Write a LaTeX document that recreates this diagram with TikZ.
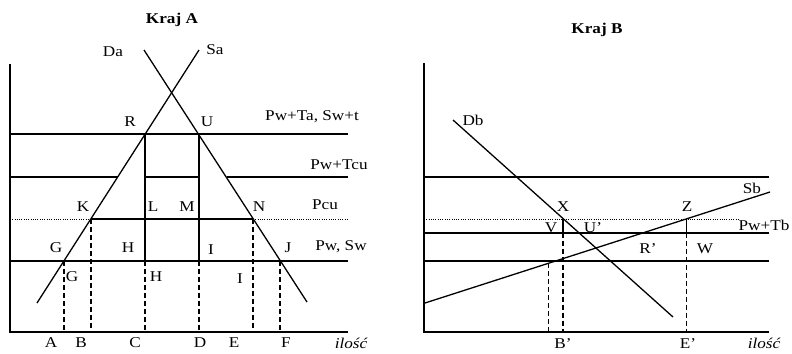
\documentclass[tikz,border=0pt]{standalone}
\usepackage{fontspec}
\setmainfont{Liberation Serif}[FakeStretch=1.15]
\usepackage{tikz}
\usetikzlibrary{calc}

\begin{document}
\begin{tikzpicture}[
        x=1bp, y=-1bp,
        font=\fontsize{15}{18}\selectfont,
        axis/.style={line width=1.3pt, draw=black},
        curve/.style={line width=1.3pt, draw=black},
        price/.style={line width=1.1pt, draw=black},
        pricedot/.style={line width=0.9pt, dash pattern=on 0.9pt off 1.4pt, draw=black},
        guide/.style={line width=1.1pt, dash pattern=on 5pt off 3pt, draw=black},
        lbl/.style={inner sep=0pt},
        title/.style={lbl, font=\fontsize{15}{18}\selectfont\bfseries},
        qty/.style={lbl, font=\fontsize{15}{18}\selectfont\itshape}
    ]
    \useasboundingbox (0,0) rectangle (792,353);

    % ---- Kraj A ----
    \coordinate (oA) at (10,332);
    \coordinate (yA) at (10,64);
    \coordinate (xA) at (348,332);
    \coordinate (sa0) at (37,303);
    \coordinate (sa1) at (199,50);
    \coordinate (da0) at (144,50);
    \coordinate (da1) at (307,302);
    \coordinate (R) at (145,134);
    \coordinate (U) at (199,134);
    \coordinate (tcuS) at (117.7,177);
    \coordinate (tcuD) at (226.5,177);
    \coordinate (K) at (91,219);
    \coordinate (N) at (253,219);
    \coordinate (G) at (64,261);
    \coordinate (H) at (145,261);
    \coordinate (I) at (199,261);
    \coordinate (J) at (280,261);

    \draw[price] (R -| yA) -- (R -| xA);
    \draw[price] (tcuS -| yA) -- (tcuS);
    \draw[price] (H |- tcuS) -- (I |- tcuS);
    \draw[price] (tcuD) -- (tcuD -| xA);
    \draw[pricedot] (K -| yA) -- (K);
    \draw[price] (K) -- (N);
    \draw[pricedot] (N) -- (N -| xA);
    \draw[price] (G -| yA) -- (G -| xA);

    \draw[curve] (sa0) -- (sa1);
    \draw[curve] (da0) -- (da1);
    \draw[price] (R) -- (H);
    \draw[price] (U) -- (I);
    \foreach \p in {G,K,H,I,N,J}
        \draw[guide] (\p) -- (\p |- oA);

    \draw[axis] (yA) -- (oA) -- (xA);

    \node[title] (krajA) at (172,20) {Kraj A};
    \node[lbl] (lDa) at (113,52) {Da};
    \node[lbl] (lSa) at (215,50) {Sa};
    \node[lbl] (lR) at (130,122) {R};
    \node[lbl] (lU) at (207,122) {U};
    \node[lbl] (lTa) at (312,117) {Pw+Ta, Sw+t};
    \node[lbl] (lTcu) at (339,165) {Pw+Tcu};
    \node[lbl] (lK) at (83,207) {K};
    \node[lbl] (lL) at (153,207) {L};
    \node[lbl] (lM) at (187,207) {M};
    \node[lbl] (lN) at (259,207) {N};
    \node[lbl] (lPcu) at (325,205) {Pcu};
    \node[lbl] (lG) at (56,248) {G};
    \node[lbl] (lH) at (128,248) {H};
    \node[lbl] (lI) at (211,250) {I};
    \node[lbl] (lJ) at (288,248) {J};
    \node[lbl] (lPw) at (341,247) {Pw, Sw};
    \node[lbl] (lG2) at (72,277) {G};
    \node[lbl] (lH2) at (156,277) {H};
    \node[lbl] (lI2) at (240,279) {I};
    \node[lbl] (qA) at (51,343) {A};
    \node[lbl] (qB) at (81,343) {B};
    \node[lbl] (qC) at (135,343) {C};
    \node[lbl] (qD) at (200,343) {D};
    \node[lbl] (qE) at (234,343) {E};
    \node[lbl] (qF) at (286,343) {F};
    \node[qty] (ilA) at (351,343) {ilość};

    % ---- Kraj B ----
    \coordinate (oB) at (424,332);
    \coordinate (yB) at (424,63);
    \coordinate (xB) at (769,332);
    \coordinate (sb0) at (425,303);
    \coordinate (sb1) at (770,192);
    \coordinate (db0) at (453,120);
    \coordinate (db1) at (673,317);
    \coordinate (topB) at (424,177);
    \coordinate (X) at (563,219);
    \coordinate (Z) at ($(sb0)!0.759!(sb1)$);
    \coordinate (V) at (563,233);
    \coordinate (W) at (Z |- V);
    \coordinate (Bq) at ($(sb0)!0.359!(sb1)$);
    \coordinate (pwB) at (424,261);

    \draw[price] (topB) -- (topB -| xB);
    \draw[pricedot] (X -| yB) -- (738,219);
    \draw[price] (V -| yB) -- (V -| xB);
    \draw[price] (pwB) -- (pwB -| xB);

    \draw[curve] (sb0) -- (sb1);
    \draw[curve] (db0) -- (db1);
    \draw[price] (X) -- (V);
    \draw[price] (Z) -- (W);
    \draw[guide] (V) -- (V |- oB);
    \draw[guide] (W) -- (W |- oB);
    \draw[guide] (Bq) -- (Bq |- oB);

    \draw[axis] (yB) -- (oB) -- (xB);

    \node[title] (krajB) at (597,30) {Kraj B};
    \node[lbl] (lDb) at (473,120) {Db};
    \node[lbl] (lSb) at (752,188) {Sb};
    \node[lbl] (lX) at (563,207) {X};
    \node[lbl] (lZ) at (687,207) {Z};
    \node[lbl] (lV) at (551,228) {V};
    \node[lbl] (lUp) at (593,228) {U'};
    \node[lbl] (lRp) at (648,249) {R'};
    \node[lbl] (lW) at (705,249) {W};
    \node[lbl] (lTb) at (764,225) {Pw+Tb};
    \node[lbl] (qBp) at (563,344) {B'};
    \node[lbl] (qEp) at (688,344) {E'};
    \node[qty] (ilB) at (764,343) {ilość};
\end{tikzpicture}
\end{document}
